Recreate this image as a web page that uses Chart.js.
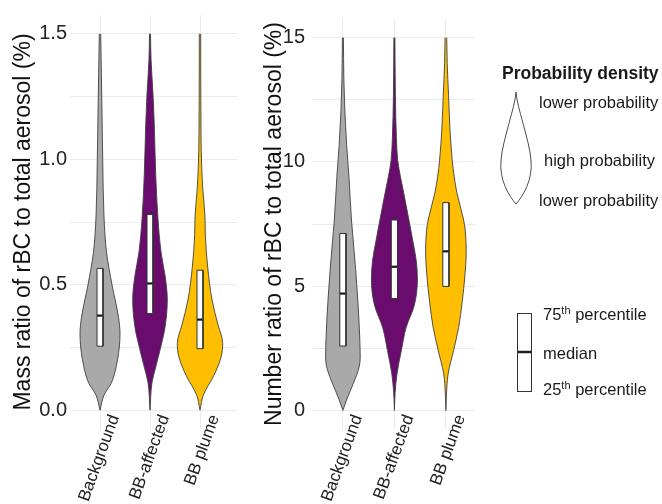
<!DOCTYPE html>
<html>
<head>
<meta charset="utf-8">
<script src="https://cdn.jsdelivr.net/npm/chart.js@4.4.1/dist/chart.umd.min.js"></script>
<style>
  body { margin: 0; background: #fff; font-family: 'Liberation Sans', Arial, sans-serif; }
  #wrap { position: relative; width: 662px; height: 504px; overflow: hidden; }
  canvas { position: absolute; top: 0; }
  #massChart { left: 0; }
  #numberChart { left: 240px; }
  #keys { position: absolute; left: 0; top: 0; }
  .lg { position: absolute; font-size: 16.5px; line-height: 16px; color: #1a1a1a; white-space: nowrap; }
  .lg sup { font-size: 11px; line-height: 0; vertical-align: 6px; }
  .lg.title { font-weight: bold; font-size: 17.5px; }
</style>
</head>
<body>
<div id="wrap">
  <canvas id="massChart" width="240" height="504"></canvas>
  <canvas id="numberChart" width="240" height="504"></canvas>
  <svg id="keys" width="662" height="504">
    <path d="M516,92 C517,108 529,138 531,160 C533,180 523,196 516,204 C509,196 499,180 501,160 C503,138 515,108 516,92 Z"
          fill="#fff" stroke="#4d4d4d" stroke-width="1"/>
    <rect x="517.5" y="313.5" width="14" height="78" fill="#fff" stroke="#333" stroke-width="1"/>
    <line x1="517.5" y1="352" x2="531.5" y2="352" stroke="#222" stroke-width="2.5"/>
  </svg>
  <div class="lg title" style="left:502px; top:65px;">Probability density</div>
  <div class="lg" style="left:539px; top:94px;">lower probability</div>
  <div class="lg" style="left:544px; top:152px;">high probability</div>
  <div class="lg" style="left:539px; top:192px;">lower probability</div>
  <div class="lg" style="left:543px; top:306px;">75<sup>th</sup> percentile</div>
  <div class="lg" style="left:543px; top:345px;">median</div>
  <div class="lg" style="left:543px; top:381px;">25<sup>th</sup> percentile</div>
</div>
<script>
const groups = ['Background', 'BB-affected', 'BB plume'];

// Mass ratio (%): violin outline as value levels + half widths (category units)
const massBgLevels = [0, 0.06, 0.11, 0.2, 0.305, 0.37, 0.5, 0.63, 0.77, 1.0, 1.26, 1.5];
const massBgWidths = [0, 0.08, 0.23, 0.35, 0.40, 0.37, 0.24, 0.13, 0.08, 0.054, 0.034, 0.014];
const massAffLevels = [0, 0.11, 0.176, 0.24, 0.33, 0.44, 0.53, 0.63, 0.76, 0.94, 1.135, 1.26, 1.40, 1.5];
const massAffWidths = [0, 0.04, 0.12, 0.2, 0.3, 0.346, 0.306, 0.22, 0.16, 0.114, 0.086, 0.06, 0.02, 0.01];
const massPlumeLevels = [0, 0.06, 0.137, 0.215, 0.266, 0.34, 0.44, 0.57, 0.70, 0.77, 0.87, 0.97, 1.1, 1.5];
const massPlumeWidths = [0, 0.066, 0.274, 0.426, 0.454, 0.36, 0.24, 0.154, 0.106, 0.1, 0.06, 0.034, 0.02, 0.014];

const massQ1 = [0.255, 0.385, 0.245];
const massMedian = [0.377, 0.505, 0.361];
const massQ3 = [0.565, 0.78, 0.558];

// Number ratio (%)
const numBgLevels = [0, 0.46, 1.11, 1.76, 2.15, 3.07, 4.38, 5.68, 6.98, 7.7, 9.4, 10.7, 12.0, 13.3, 15];
const numBgWidths = [0, 0.078, 0.208, 0.317, 0.336, 0.324, 0.291, 0.247, 0.194, 0.165, 0.117, 0.072, 0.039, 0.019, 0.01];
const numAffLevels = [0, 0.72, 1.5, 2.42, 3.33, 4.24, 5.29, 6.07, 6.85, 7.7, 8.75, 9.4, 10.07, 10.97, 12.66, 15];
const numAffWidths = [0, 0.014, 0.052, 0.136, 0.227, 0.388, 0.447, 0.421, 0.355, 0.278, 0.181, 0.117, 0.064, 0.039, 0.019, 0.01];
const numPlumeLevels = [0, 0.98, 1.5, 2.42, 3.33, 4.38, 5.42, 6.33, 7.25, 7.7, 8.75, 9.4, 10.07, 11.36, 12.66, 13.97, 15];
const numPlumeWidths = [0, 0.019, 0.045, 0.15, 0.247, 0.317, 0.369, 0.394, 0.375, 0.34, 0.214, 0.161, 0.122, 0.078, 0.052, 0.025, 0.016];

const numQ1 = [2.59, 4.50, 4.99];
const numMedian = [4.70, 5.78, 6.40];
const numQ3 = [7.12, 7.66, 8.36];

// axis ticks
const massTicks = [0, 0.25, 0.5, 0.75, 1, 1.25, 1.5];
const massTickLabels = ['0.0', '', '0.5', '', '1.0', '', '1.5'];
const numTicks = [0, 2.5, 5, 7.5, 10, 12.5, 15];
const numTickLabels = ['0', '', '5', '', '10', '', '15'];

const fillColours = ['#a9a9a9', '#6a0b6e', '#ffbf00'];
const outline = '#404040';
const boxHalf = 0.06;

Chart.defaults.font.family = "'Liberation Sans', Arial, sans-serif";

function buildDatasets(levels, widths, q1, med, q3) {
    const sets = [];
    levels.forEach((lv, g) => {
        const c = g + 1;
        const w = widths[g];
        sets.push({
            data: lv.map((v, i) => ({x: c - w[i], y: v})),
            fill: '+1', backgroundColor: fillColours[g], borderColor: outline,
            borderWidth: 0.9, cubicInterpolationMode: 'monotone', order: 2
        });
        sets.push({
            data: lv.map((v, i) => ({x: c + w[i], y: v})),
            fill: false, borderColor: outline,
            borderWidth: 0.9, cubicInterpolationMode: 'monotone', order: 2
        });
    });
    groups.forEach((name, g) => {
        const c = g + 1;
        // white box (fill between its two sides)
        sets.push({
            data: [{x: c - boxHalf, y: q1[g]}, {x: c - boxHalf, y: q3[g]}],
            fill: '+1', backgroundColor: '#ffffff', borderWidth: 0, tension: 0, order: 1
        });
        sets.push({
            data: [{x: c + boxHalf, y: q1[g]}, {x: c + boxHalf, y: q3[g]}],
            fill: false, borderWidth: 0, tension: 0, order: 1
        });
        sets.push({
            data: [{x: c - boxHalf, y: q1[g]}, {x: c - boxHalf, y: q3[g]}, {x: c + boxHalf, y: q3[g]},
                   {x: c + boxHalf, y: q1[g]}, {x: c - boxHalf, y: q1[g]}],
            fill: false, borderColor: '#333333', borderWidth: 1, tension: 0, order: 0
        });
        sets.push({
            data: [{x: c - boxHalf, y: med[g]}, {x: c + boxHalf, y: med[g]}],
            fill: false, borderColor: '#1a1a1a', borderWidth: 2.2, tension: 0, order: 0
        });
    });
    return sets;
}

function makeChart(id, opts) {
    const ctx = document.getElementById(id).getContext('2d');
    return new Chart(ctx, {
        type: 'line',
        data: {datasets: buildDatasets(opts.levels, opts.widths, opts.q1, opts.med, opts.q3)},
        options: {
            indexAxis: 'y',
            responsive: false,
            animation: false,
            events: [],
            elements: {point: {radius: 0}},
            layout: {padding: {top: 8, right: opts.padRight, left: 0, bottom: 0}},
            plugins: {
                legend: {display: false},
                tooltip: {enabled: false},
                filler: {drawTime: 'beforeDatasetsDraw'}
            },
            scales: {
                x: {
                    type: 'linear',
                    min: 0.4,
                    max: opts.xMax,
                    afterBuildTicks: (axis) => { axis.ticks = groups.map((n, i) => ({value: i + 1})); },
                    afterFit: (axis) => { axis.height = 75; },
                    grid: {color: '#ebebeb', lineWidth: 1, drawTicks: false},
                    border: {display: false},
                    ticks: {
                        autoSkip: false,
                        minRotation: 70,
                        maxRotation: 70,
                        mirror: true,     // lets the labels start just under the zero line
                        padding: 10,
                        labelOffset: 34,
                        color: '#222',
                        font: {size: 17},
                        callback: (v) => groups[Math.round(v) - 1]
                    }
                },
                y: {
                    type: 'linear',
                    min: opts.yMin,
                    max: opts.yMax,
                    afterBuildTicks: (axis) => { axis.ticks = opts.ticks.map(v => ({value: v})); },
                    afterFit: (axis) => { axis.width = opts.axisWidth; },
                    grid: {color: '#ebebeb', lineWidth: 1, drawTicks: false},
                    border: {display: false},
                    ticks: {
                        autoSkip: false,
                        padding: opts.tickPad,
                        color: '#222',
                        font: {size: 20},
                        callback: (v, i) => opts.tickLabels[i]
                    },
                    title: {
                        display: true,
                        text: opts.title,
                        color: '#111',
                        font: {size: 23},
                        padding: {top: opts.titlePad, bottom: 0}
                    }
                }
            }
        }
    });
}

makeChart('massChart', {
    levels: [massBgLevels, massAffLevels, massPlumeLevels],
    widths: [massBgWidths, massAffWidths, massPlumeWidths],
    q1: massQ1, med: massMedian, q3: massQ3,
    ticks: massTicks, tickLabels: massTickLabels,
    yMin: -0.075, yMax: 1.575, xMax: 3.74,
    axisWidth: 70, tickPad: 3, titlePad: 10, padRight: 3,
    title: 'Mass ratio of rBC to total aerosol (%)'
});

makeChart('numberChart', {
    levels: [numBgLevels, numAffLevels, numPlumeLevels],
    widths: [numBgWidths, numAffWidths, numPlumeWidths],
    q1: numQ1, med: numMedian, q3: numQ3,
    ticks: numTicks, tickLabels: numTickLabels,
    yMin: -0.75, yMax: 15.75, xMax: 3.565,
    axisWidth: 72, tickPad: 7, titlePad: 21, padRight: 5,
    title: 'Number ratio of rBC to total aerosol (%)'
});
</script>
</body>
</html>
